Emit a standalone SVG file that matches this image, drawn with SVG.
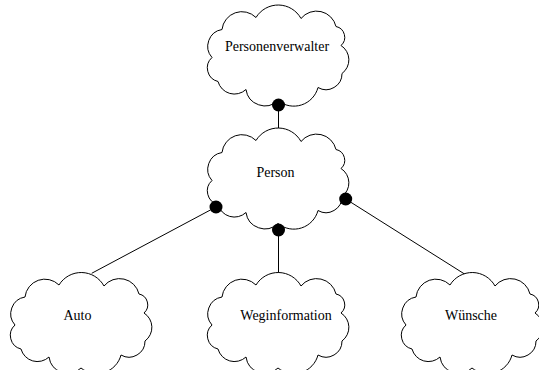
<svg xmlns="http://www.w3.org/2000/svg" xmlns:xlink="http://www.w3.org/1999/xlink" width="539" height="370" viewBox="0 0 539 370">
  <style>
    .cloud { fill: #ffffff; stroke: #000000; stroke-width: 1; }
    .label { font-family: "Liberation Serif", "Times New Roman", serif; font-size: 14px; fill: #000000; text-anchor: middle; }
    .link { stroke: #000000; stroke-width: 1; fill: none; }
    .dot { fill: #000000; stroke: none; }
  </style>
  <defs>
    <!-- Booch class cloud, centred on the origin -->
    <path id="cloud" d="M -66 4 A 17 17 0 0 1 -56 -24 A 20 20 0 0 1 -22 -36 A 26 26 0 0 1 23 -35 A 20 20 0 0 1 58 -27 A 11 11 0 0 1 63 -8 A 17 17 0 0 1 64 20 A 16 16 0 0 1 40 34 A 25 25 0 0 1 0 47 A 19 19 0 0 1 -32 36 A 17 17 0 0 1 -60 28 A 14 14 0 0 1 -66 4 Z"/>
  </defs>

  <rect x="0" y="0" width="539" height="370" fill="#ffffff"/>

  <g id="connector-lines">
    <line class="link" x1="278.5" y1="105" x2="278.5" y2="129"/>
    <line class="link" x1="216" y1="207" x2="91.7" y2="273.3"/>
    <line class="link" x1="278.5" y1="230" x2="278.5" y2="273"/>
    <line class="link" x1="345.7" y1="199" x2="465" y2="274.3"/>
  </g>

  <g id="personenverwalter">
    <use xlink:href="#cloud" href="#cloud" class="cloud" transform="translate(278,53.5)"/>
    <text class="label" x="277" y="51">Personenverwalter</text>
  </g>

  <g id="person">
    <use xlink:href="#cloud" href="#cloud" class="cloud" transform="translate(278,176.5)"/>
    <text class="label" x="275.5" y="177">Person</text>
  </g>

  <g id="auto">
    <use xlink:href="#cloud" href="#cloud" class="cloud" transform="translate(81,321)"/>
    <text class="label" x="77.5" y="320">Auto</text>
  </g>

  <g id="weginformation">
    <use xlink:href="#cloud" href="#cloud" class="cloud" transform="translate(278,321)"/>
    <text class="label" x="286" y="319.5">Weginformation</text>
  </g>

  <g id="wuensche">
    <use xlink:href="#cloud" href="#cloud" class="cloud" transform="translate(472,321)"/>
    <text class="label" x="471" y="319.5">Wünsche</text>
  </g>

  <!-- aggregation dots at the owning side of each link -->
  <g id="connector-ends">
    <circle class="dot" cx="278.5" cy="105" r="6.5"/>
    <circle class="dot" cx="216" cy="207" r="6.5"/>
    <circle class="dot" cx="278.5" cy="230" r="6.5"/>
    <circle class="dot" cx="345.7" cy="199" r="6.5"/>
  </g>
</svg>
